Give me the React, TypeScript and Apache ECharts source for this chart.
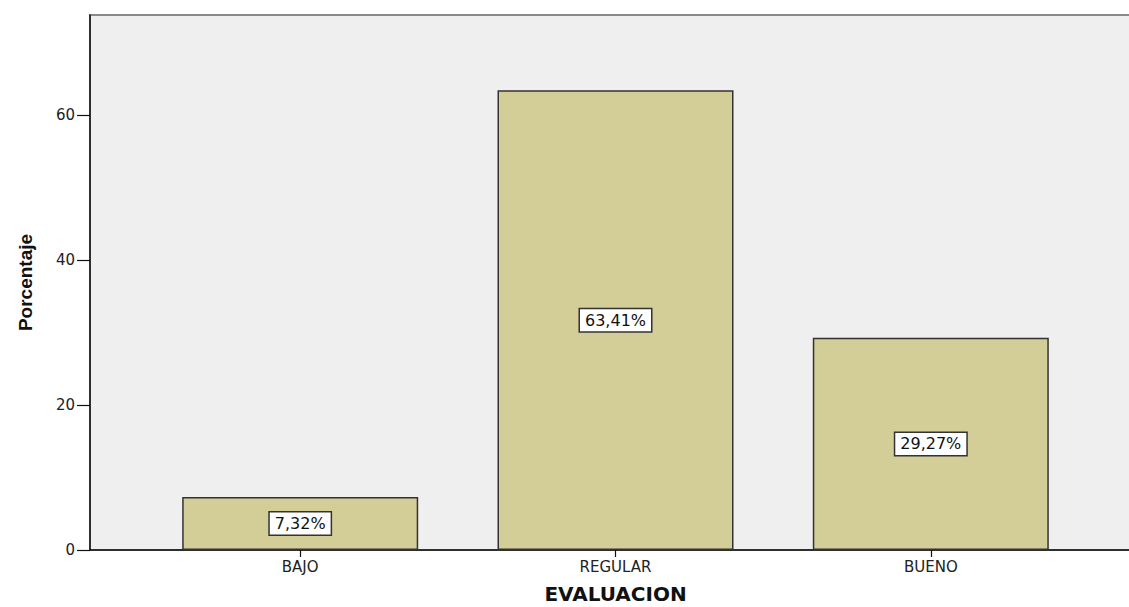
import React, { useEffect, useRef } from "react";
import * as echarts from "echarts";

const categories: string[] = ["BAJO", "REGULAR", "BUENO"];
const percentages: number[] = [7.32, 63.41, 29.27];
const yTickValues: number[] = [0, 20, 40, 60];
const xTitle = "EVALUACION";
const yTitle = "Porcentaje";

export default function App() {
  const ref = useRef<HTMLDivElement>(null);

  useEffect(() => {
    if (!ref.current) return;
    const chart = echarts.init(ref.current, null, { renderer: "svg" });
    const positions = categories.map((_, i) => i);
    chart.setOption({
      animation: false,
      backgroundColor: "#ffffff",
      grid: {
        show: true,
        left: 90,
        right: -12,
        top: 15,
        bottom: 57,
        backgroundColor: "#efefef",
        borderColor: "#8a8a8a",
        borderWidth: 2,
        containLabel: false,
        outerBoundsMode: "none",
      },
      xAxis: {
        type: "value",
        min: -2 / 3,
        max: 8 / 3,
        name: xTitle,
        nameLocation: "middle",
        nameGap: 34,
        nameTextStyle: {
          fontFamily: "DejaVu Sans",
          fontWeight: "bold",
          fontSize: 20,
          color: "#111",
        },
        axisLine: { show: true, onZero: false, lineStyle: { color: "#111", width: 1.5 } },
        axisTick: {
          show: true,
          length: 7,
          customValues: positions,
          lineStyle: { color: "#111", width: 1.2 },
        },
        axisLabel: {
          customValues: positions,
          margin: 9,
          fontFamily: "DejaVu Sans",
          fontSize: 15,
          color: "#222",
          formatter: (v: number) => categories[Math.round(v)] ?? "",
        },
        splitLine: { show: false },
      },
      yAxis: {
        type: "value",
        min: 0,
        max: 73.8,
        interval: 20,
        name: yTitle,
        nameLocation: "middle",
        nameGap: 55,
        nameTextStyle: {
          fontFamily: "Liberation Sans",
          fontWeight: "bold",
          fontSize: 19,
          color: "#111",
        },
        axisLine: { show: true, onZero: false, lineStyle: { color: "#111", width: 1.5 } },
        axisTick: {
          show: true,
          length: 13,
          customValues: yTickValues,
          lineStyle: { color: "#111", width: 1.2 },
        },
        axisLabel: {
          customValues: yTickValues,
          margin: 15,
          fontFamily: "DejaVu Sans",
          fontSize: 15,
          color: "#222",
        },
        splitLine: { show: false },
      },
      series: [
        {
          type: "bar",
          barWidth: 236,
          data: percentages.map((v, i) => [positions[i], v]),
          itemStyle: {
            color: "#d3cd97",
            borderColor: "#333",
            borderWidth: 1.5,
          },
          label: {
            show: true,
            position: "inside",
            formatter: (p: any) => p.value[1].toFixed(2).replace(".", ",") + "%",
            fontFamily: "DejaVu Sans",
            fontSize: 16,
            color: "#111",
            backgroundColor: "#ffffff",
            borderColor: "#333",
            borderWidth: 1.5,
            padding: [3, 5],
          },
        },
      ],
    });
    return () => chart.dispose();
  }, []);

  return (
    <div
      ref={ref}
      style={{ position: "absolute", left: 0, top: 0, width: 1129, height: 607 }}
    />
  );
}
